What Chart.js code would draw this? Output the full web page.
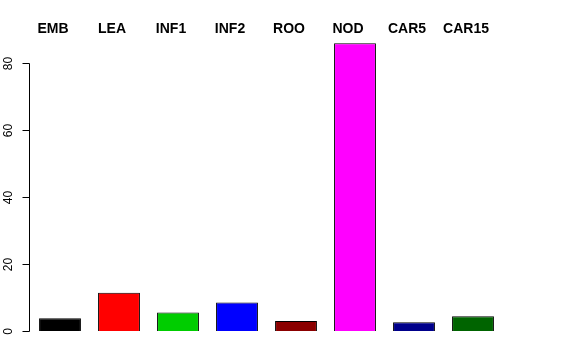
<!DOCTYPE html>
<html>
<head>
<meta charset="utf-8">
<script src="https://cdn.jsdelivr.net/npm/chart.js@4/dist/chart.umd.min.js"></script>
<style>
  html, body { margin: 0; padding: 0; background: #fff; }
  #wrap { width: 576px; height: 360px; }
</style>
</head>
<body>
<div id="wrap"><canvas id="chart1"></canvas></div>
<script>
// data
const tissues = ['EMB', 'LEA', 'INF1', 'INF2', 'ROO', 'NOD', 'CAR5', 'CAR15'];
const values = [3.8, 11.4, 5.5, 8.5, 3.0, 86.0, 2.6, 4.4];
const barColors = ['#000000', '#FF0000', '#00CD00', '#0000FF', '#8B0000', '#FF00FF', '#00008B', '#006400'];
const yTicks = [0, 20, 40, 60, 80];

const FONT = 'Liberation Sans, Arial, Helvetica, sans-serif';

// R-style y axis: line only from first to last tick, labels rotated
const rAxis = {
  id: 'rAxis',
  afterDraw(chart) {
    const ctx = chart.ctx;
    const y = chart.scales.y;
    const x0 = Math.round(chart.chartArea.left) - 1.5;
    ctx.save();
    ctx.strokeStyle = '#000';
    ctx.lineWidth = 1;
    ctx.beginPath();
    ctx.moveTo(x0, Math.round(y.getPixelForValue(yTicks[0])) + 0.5);
    ctx.lineTo(x0, Math.round(y.getPixelForValue(yTicks[yTicks.length - 1])) + 0.5);
    ctx.stroke();
    ctx.fillStyle = '#000';
    ctx.font = '12px ' + FONT;
    ctx.textAlign = 'center';
    ctx.textBaseline = 'middle';
    yTicks.forEach(v => {
      const py = Math.round(y.getPixelForValue(v)) + 0.5;
      ctx.beginPath();
      ctx.moveTo(x0, py);
      ctx.lineTo(x0 - 7, py);
      ctx.stroke();
      ctx.save();
      ctx.translate(9, py);
      ctx.rotate(-Math.PI / 2);
      ctx.fillText(String(v), 0, 0);
      ctx.restore();
    });
    ctx.restore();
  }
};

new Chart(document.getElementById('chart1'), {
  type: 'bar',
  data: {
    labels: tissues,
    datasets: [{
      data: values,
      backgroundColor: barColors,
      borderColor: '#000',
      borderWidth: 1,
      barPercentage: 0.71,
      categoryPercentage: 1.0
    }]
  },
  options: {
    responsive: true,
    maintainAspectRatio: false,
    animation: false,
    layout: { padding: { left: 0, right: 73.5, top: 0, bottom: 29 } },
    plugins: {
      legend: { display: false },
      tooltip: { enabled: false }
    },
    scales: {
      x: {
        position: 'top',
        grid: { display: false, drawTicks: false },
        border: { display: false },
        ticks: {
          color: '#000',
          font: { family: FONT, size: 14, weight: 'bold' },
          labelOffset: -7,
          padding: 0,
          maxRotation: 0
        },
        afterFit(scale) { scale.height = 38; }
      },
      y: {
        min: 0,
        max: 87.57,
        grid: { display: false },
        border: { display: false },
        ticks: { display: false },
        afterFit(scale) { scale.width = 30.5; }
      }
    }
  },
  plugins: [rAxis]
});
</script>
</body>
</html>
